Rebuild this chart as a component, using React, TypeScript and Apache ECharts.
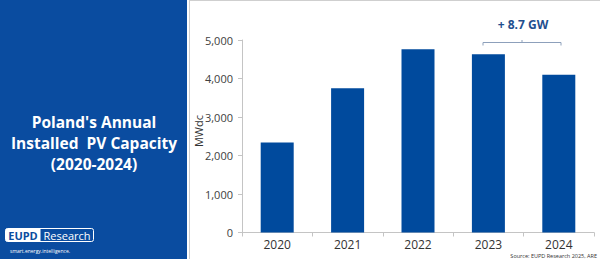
import React, { useEffect, useRef } from "react";
import * as echarts from "echarts";

const years = ["2020", "2021", "2022", "2023", "2024"];
const capacityMWdc = [2340, 3750, 4760, 4630, 4100];
const yTicks = { min: 0, max: 5000, interval: 1000 };
const yAxisName = "MWdc";
const titleLines = ["Poland's Annual", "Installed  PV Capacity", "(2020-2024)"];
const annotation = "+ 8.7 GW";
const sourceText = "Source: EUPD Research 2025, ARE";

const PANEL_BLUE = "#0a4ca0";
const BAR_BLUE = "#004a9d";
const FONT = "'Open Sans', 'Noto Sans', sans-serif";

export default function App() {
  const ref = useRef<HTMLDivElement>(null);
  useEffect(() => {
    if (!ref.current) return;
    const chart = echarts.init(ref.current, null, { renderer: "svg" });
    const option: any = {
      animation: false,
      backgroundColor: "#ffffff",
      grid: { left: 242, right: 6, top: 40, bottom: 26.5, containLabel: false },
      xAxis: {
        type: "category",
        data: years,
        axisLine: { show: true, lineStyle: { color: "#c4c4c4", width: 1 } },
        axisTick: { show: true, length: 4, lineStyle: { color: "#c4c4c4" } },
        axisLabel: { color: "#333333", fontSize: 12, fontFamily: FONT, margin: 6 },
      },
      yAxis: {
        type: "value",
        min: yTicks.min,
        max: yTicks.max,
        interval: yTicks.interval,
        axisLine: { show: true, lineStyle: { color: "#c4c4c4", width: 1 } },
        axisTick: { show: true, length: 4, lineStyle: { color: "#c4c4c4" } },
        splitLine: { show: false },
        axisLabel: {
          color: "#404040",
          fontSize: 11,
          fontFamily: FONT,
          margin: 9,
          formatter: (v: number) => v.toLocaleString("en-US"),
        },
      },
      series: [
        {
          type: "bar",
          data: capacityMWdc,
          barWidth: 33,
          itemStyle: { color: BAR_BLUE },
        },
      ],
      graphic: [
        { type: "rect", shape: { x: 0, y: 0, width: 187, height: 259 }, style: { fill: PANEL_BLUE }, z: 10 },
        { type: "line", shape: { x1: 189.5, y1: 0, x2: 189.5, y2: 259 }, style: { stroke: "#cfcfcf", lineWidth: 1 }, z: 10 },
        { type: "line", shape: { x1: 189.5, y1: 0.5, x2: 600, y2: 0.5 }, style: { stroke: "#cfcfcf", lineWidth: 1 }, z: 10 },
        {
          type: "text",
          x: 94,
          y: 143,
          style: {
            text: titleLines.join("\n"),
            fill: "#ffffff",
            font: `bold 15.5px ${FONT}`,
            lineHeight: 21,
            textAlign: "center",
            textVerticalAlign: "middle",
          },
          z: 11,
        },
        {
          type: "text",
          x: 198,
          y: 131,
          rotation: Math.PI / 2,
          style: {
            text: yAxisName,
            fill: "#333333",
            font: `11px ${FONT}`,
            textAlign: "center",
            textVerticalAlign: "middle",
          },
          z: 11,
        },
        // logo
        { type: "rect", shape: { x: 5.5, y: 228.5, width: 88, height: 13, r: 2 }, style: { fill: PANEL_BLUE, stroke: "#ffffff", lineWidth: 1 }, z: 11 },
        { type: "rect", shape: { x: 5.5, y: 228.5, width: 35, height: 13, r: [2, 0, 0, 2] }, style: { fill: "#ffffff" }, z: 11 },
        {
          type: "text", x: 23, y: 235.5,
          style: { text: "EUPD", fill: PANEL_BLUE, font: `bold 11px ${FONT}`, textAlign: "center", textVerticalAlign: "middle" },
          z: 12,
        },
        {
          type: "text", x: 67, y: 235.5,
          style: { text: "Research", fill: "#ffffff", font: `11px ${FONT}`, textAlign: "center", textVerticalAlign: "middle" },
          z: 12,
        },
        {
          type: "text", x: 10, y: 251,
          style: { text: "smart.energy.intelligence.", fill: "#ffffff", font: `5px ${FONT}`, textAlign: "left", textVerticalAlign: "middle" },
          z: 12,
        },
        // annotation
        {
          type: "text", x: 523, y: 24,
          style: { text: annotation, fill: "#1f4f8f", font: `bold 12px ${FONT}`, textAlign: "center", textVerticalAlign: "middle" },
          z: 11,
        },
        {
          type: "polyline",
          shape: { points: [[483, 45.5], [483, 42.5], [561, 42.5], [561, 45.5]] },
          style: { stroke: "#8da0bb", lineWidth: 1, fill: "none" },
          z: 11,
        },
        { type: "line", shape: { x1: 522, y1: 42.5, x2: 522, y2: 40 }, style: { stroke: "#8da0bb", lineWidth: 1 }, z: 11 },
        // source
        {
          type: "text", x: 597, y: 255.5,
          style: { text: sourceText, fill: "#333333", font: `5.5px ${FONT}`, textAlign: "right", textVerticalAlign: "middle" },
          z: 12,
        },
      ],
    };
    chart.setOption(option);
    return () => chart.dispose();
  }, []);
  return (
    <div
      ref={ref}
      style={{ position: "fixed", left: 0, top: 0, width: 600, height: 259 }}
    />
  );
}
